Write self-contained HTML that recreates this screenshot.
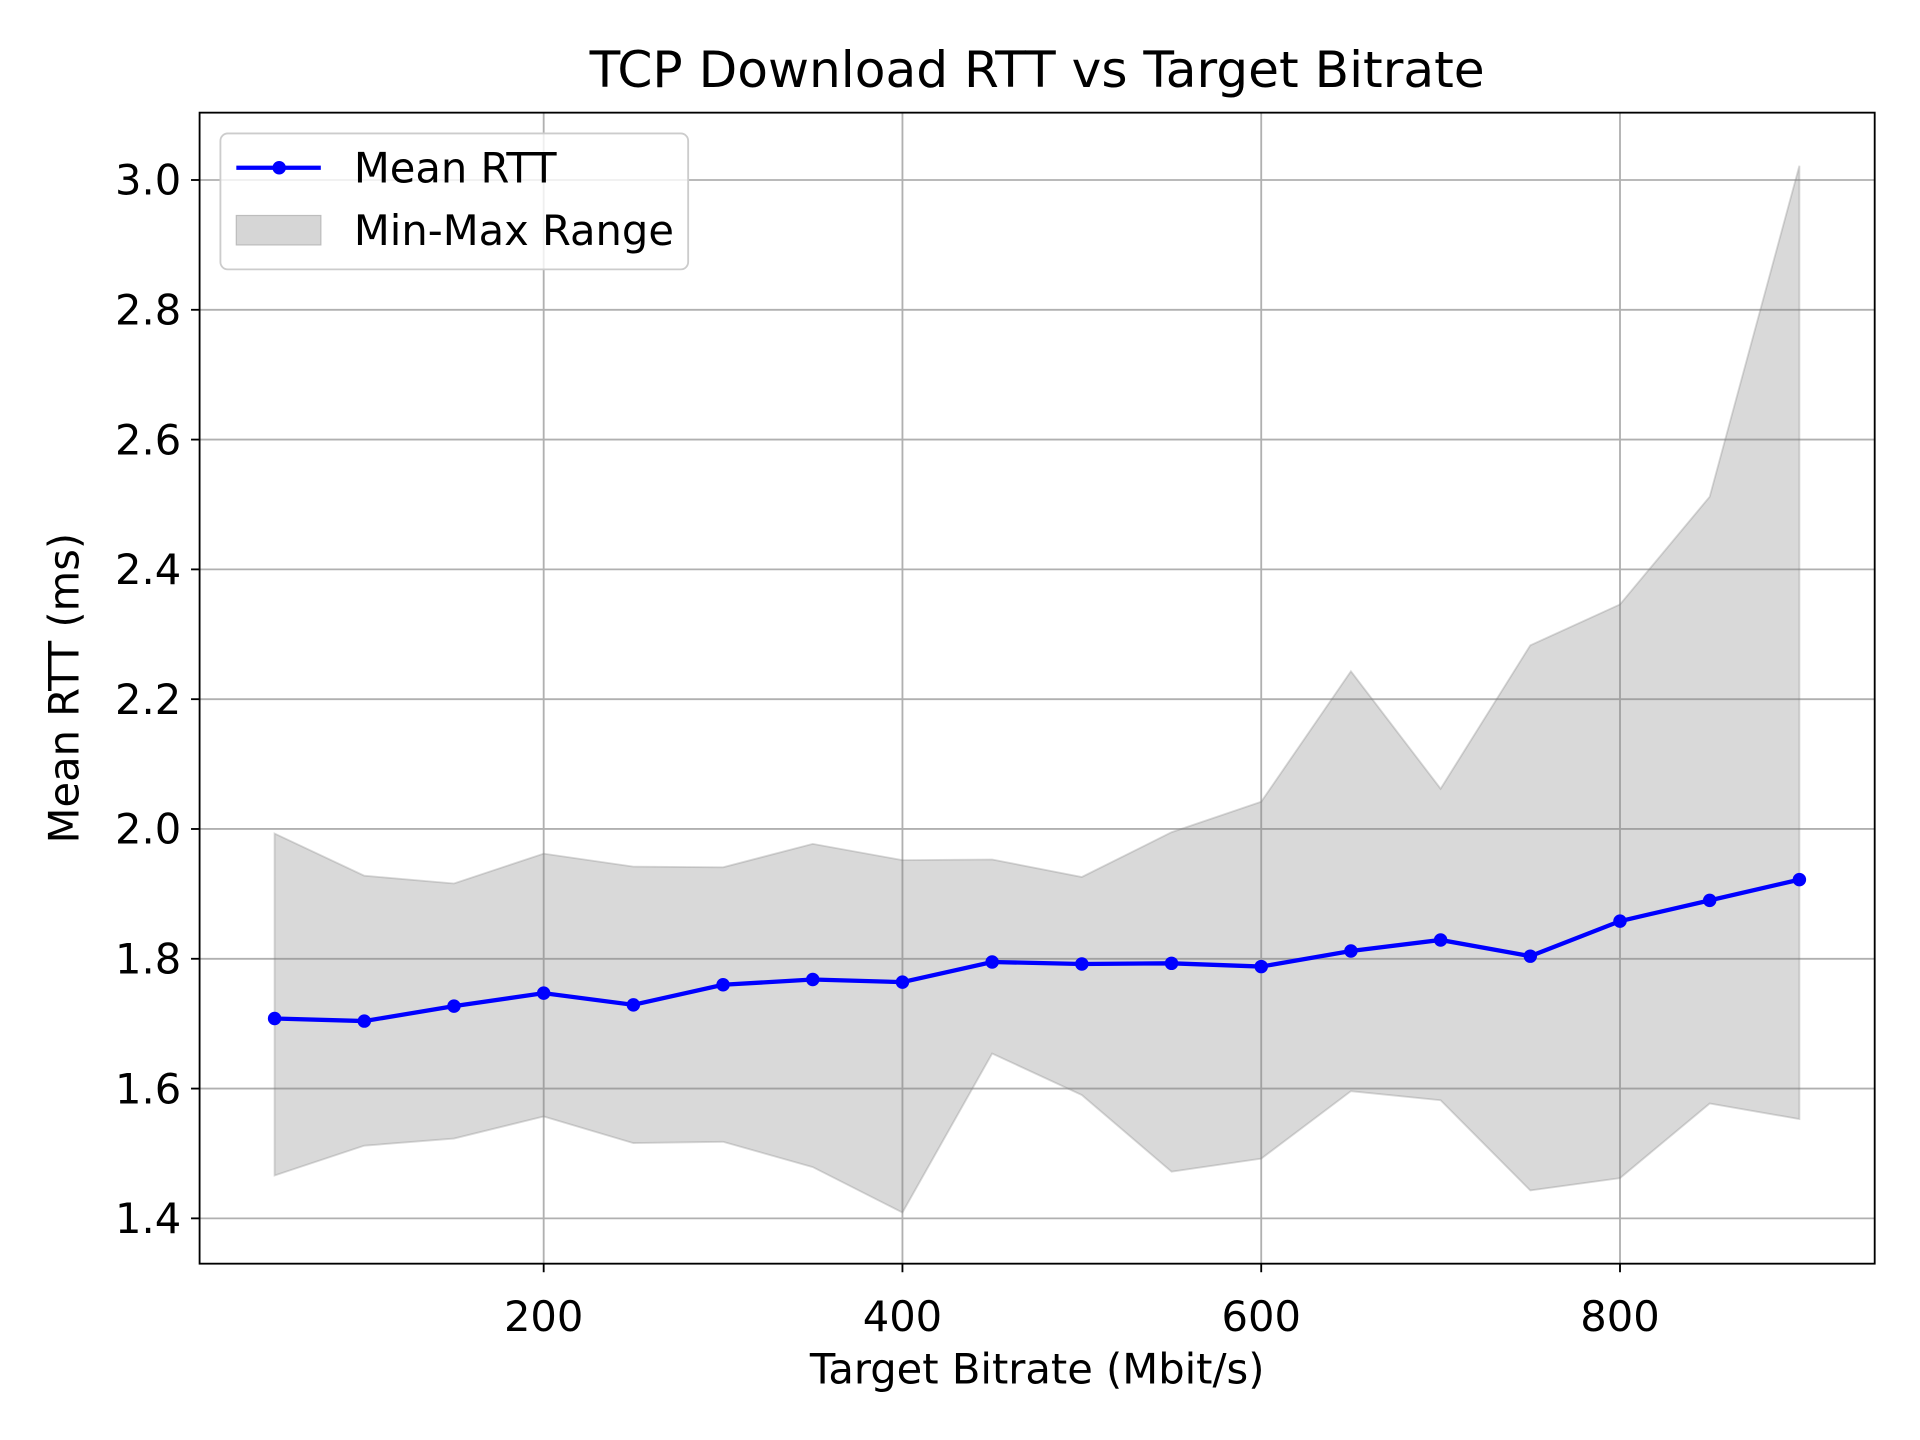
<!DOCTYPE html>
<html><head><meta charset="utf-8"><style>
html,body{margin:0;padding:0;background:#fff}
svg{display:block}
text{font-family:"DejaVu Sans","Liberation Sans",sans-serif;fill:#000}
</style></head><body>
<svg id="chart" width="1920" height="1440" viewBox="0 0 1568 1176" preserveAspectRatio="none" xmlns="http://www.w3.org/2000/svg">
<rect x="0" y="0" width="1568" height="1176" fill="#fff"/>
<g id="grid"></g>
<g id="band"></g>
<g id="series"></g>
<rect x="163" y="92" width="1368" height="940" fill="none" stroke="#000" stroke-width="1.5"/>
<g id="xticks"></g>
<g id="yticks"></g>
<text x="847" y="71" font-size="41" text-anchor="middle">TCP Download RTT vs Target Bitrate</text>
<text x="847" y="1130" font-size="34" text-anchor="middle">Target Bitrate (Mbit/s)</text>
<text transform="translate(64,562) rotate(-90)" font-size="34" text-anchor="middle">Mean RTT (ms)</text>
<g>
<rect x="180" y="109" width="382" height="111" rx="6" fill="#fff" fill-opacity="0.8" stroke="#ccc" stroke-width="1.5"/>
<line x1="193" y1="137" x2="262" y2="137" stroke="#0000ff" stroke-width="3.5"/>
<circle cx="228" cy="137" r="5.5" fill="#0000ff"/>
<text x="289" y="149" font-size="34">Mean RTT</text>
<rect x="193" y="176" width="69" height="24" fill="#d6d6d6" stroke="#bdbdbd"/>
<text x="289" y="200" font-size="34">Min-Max Range</text>
</g>
</svg>
<script>
const bitrates=[50,100,150,200,250,300,350,400,450,500,550,600,650,700,750,800,850,900];
const meanRtt=[1.708,1.704,1.727,1.747,1.729,1.760,1.768,1.764,1.795,1.792,1.793,1.788,1.812,1.829,1.804,1.858,1.890,1.922];
const maxRtt=[1.993,1.928,1.916,1.962,1.942,1.941,1.977,1.952,1.953,1.926,1.995,2.042,2.243,2.062,2.283,2.346,2.512,3.022];
const minRtt=[1.466,1.512,1.523,1.557,1.516,1.518,1.479,1.409,1.654,1.590,1.472,1.492,1.596,1.582,1.443,1.462,1.577,1.553];
const xTicks=[200,400,600,800];
const yTicks=[1.4,1.6,1.8,2.0,2.2,2.4,2.6,2.8,3.0];
const NS="http://www.w3.org/2000/svg";
function sx(v){return 444+(v-200)*(293/200);}
function sy(v){return 995-(v-1.4)*(848/1.6);}
function mk(tag,attrs,parent){const e=document.createElementNS(NS,tag);for(const k in attrs)e.setAttribute(k,attrs[k]);parent.appendChild(e);return e;}
const grid=document.getElementById('grid'),xt=document.getElementById('xticks'),yt=document.getElementById('yticks');
xTicks.forEach(v=>{const x=sx(v);
 const g=mk('line',{x1:x,x2:x,y1:92,y2:1032,stroke:'#b0b0b0','stroke-width':1.5},grid);
 
 
 mk('line',{x1:x,x2:x,y1:1032,y2:1039,stroke:'#000','stroke-width':1.5},xt);
 const t=mk('text',{x:x,y:1087,'font-size':34,'text-anchor':'middle'},xt);t.textContent=v;
 
 
});
yTicks.forEach(v=>{const y=sy(v);
 const g=mk('line',{x1:163,x2:1531,y1:y,y2:y,stroke:'#b0b0b0','stroke-width':1.5},grid);
 
 
 mk('line',{x1:156,x2:163,y1:y,y2:y,stroke:'#000','stroke-width':1.5},yt);
 const t=mk('text',{x:148,y:y+12,'font-size':34,'text-anchor':'end'},yt);t.textContent=v.toFixed(1);
 
 
});
let pts=bitrates.map((b,i)=>sx(b)+','+sy(maxRtt[i]));
for(let i=bitrates.length-1;i>=0;i--)pts.push(sx(bitrates[i])+','+sy(minRtt[i]));
const band=mk('polygon',{points:pts.join(' '),fill:'#808080','fill-opacity':0.3,stroke:'#808080','stroke-opacity':0.3,'stroke-width':1.5},document.getElementById('band'));


const ser=document.getElementById('series');
const line=mk('polyline',{points:bitrates.map((b,i)=>sx(b)+','+sy(meanRtt[i])).join(' '),fill:'none',stroke:'#0000ff','stroke-width':3.5},ser);


bitrates.forEach((b,i)=>{const c=mk('circle',{cx:sx(b),cy:sy(meanRtt[i]),r:5.5,fill:'#0000ff'},ser);
 
 
});
</script>
</body></html>
